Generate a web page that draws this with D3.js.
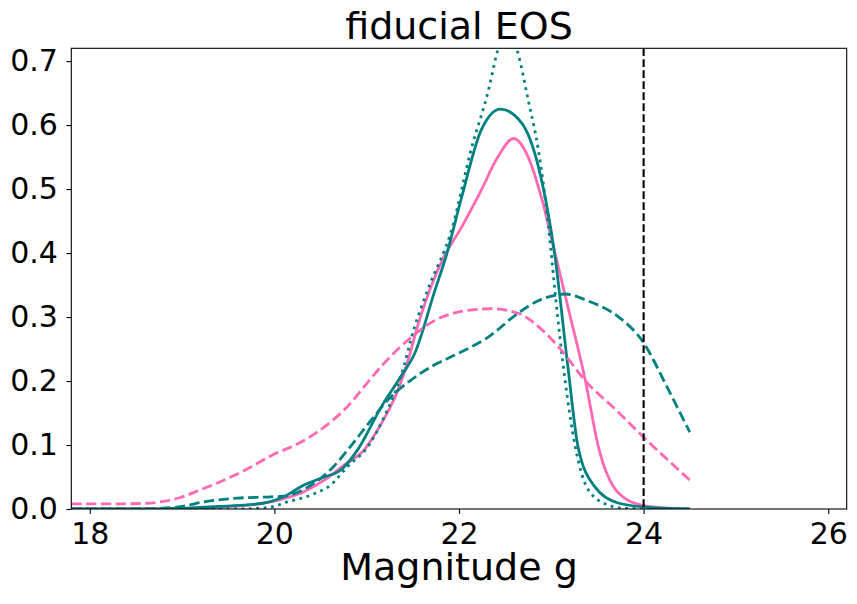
<!DOCTYPE html>
<html>
<head>
<meta charset="utf-8">
<script src="https://cdn.jsdelivr.net/npm/d3@7"></script>
<style>
  body { margin: 0; background: #fff; }
  text { font-family: "DejaVu Sans", sans-serif; }
</style>
</head>
<body>
<div id="chart"></div>
<script>
// data (magnitude g vs density)

var pinkSolidX = [17.8, 18.5, 19.0, 19.4, 19.7, 19.96, 20.15, 20.32, 20.54, 20.75, 20.97, 21.16, 21.34, 21.45, 21.55, 21.74, 21.83, 22.03, 22.24, 22.42, 22.59, 22.75, 22.9, 23.04, 23.18, 23.37, 23.51, 23.73, 23.98, 24.2, 24.5];
var pinkSolidY = [0, 0, 0.001, 0.003, 0.006, 0.011, 0.018, 0.027, 0.045, 0.068, 0.092, 0.134, 0.186, 0.233, 0.285, 0.363, 0.392, 0.441, 0.498, 0.55, 0.579, 0.55, 0.483, 0.40, 0.316, 0.2, 0.097, 0.0245, 0.006, 0.002, 0];

var tealSolidX = [17.8, 18.5, 19.0, 19.4, 19.88, 20.1, 20.32, 20.54, 20.72, 20.9, 21.16, 21.37, 21.52, 21.74, 21.86, 22.03, 22.24, 22.45, 22.68, 22.86, 23.04, 23.18, 23.29, 23.47, 23.73, 24.1, 24.5];
var tealSolidY = [0, 0, 0.001, 0.004, 0.009, 0.019, 0.0375, 0.05, 0.061, 0.092, 0.16, 0.207, 0.243, 0.342, 0.395, 0.488, 0.592, 0.625, 0.603, 0.535, 0.394, 0.222, 0.097, 0.035, 0.009, 0.002, 0];

var tealDotX = [17.8, 19.0, 19.5, 19.92, 20.14, 20.4, 20.61, 20.79, 21.01, 21.19, 21.37, 21.52, 21.66, 21.93, 22.13, 22.32, 22.42, 22.52, 22.63, 22.75, 22.86, 22.97, 23.04, 23.15, 23.26, 23.4, 23.62, 23.8, 24.5];
var tealDotY = [0, 0, 0, 0.002, 0.011, 0.022, 0.0375, 0.066, 0.097, 0.144, 0.207, 0.285, 0.342, 0.441, 0.561, 0.655, 0.717, 0.75, 0.717, 0.639, 0.561, 0.441, 0.34, 0.2, 0.097, 0.03, 0.006, 0.001, 0];

var pinkDashX = [17.8, 18.3, 18.62, 18.8, 18.98, 19.2, 19.42, 19.7, 19.96, 20.32, 20.61, 20.81, 21.0, 21.19, 21.48, 21.73, 22.0, 22.35, 22.64, 22.9, 23.11, 23.37, 23.7, 23.98, 24.2, 24.5];
var pinkDashY = [0.008, 0.008, 0.009, 0.012, 0.018, 0.03, 0.043, 0.062, 0.083, 0.107, 0.136, 0.163, 0.196, 0.228, 0.268, 0.294, 0.308, 0.313, 0.306, 0.28, 0.248, 0.2, 0.155, 0.115, 0.085, 0.045];

var tealDashX = [17.8, 18.5, 18.87, 19.0, 19.23, 19.6, 19.96, 20.1, 20.4, 20.64, 20.81, 21.0, 21.26, 21.48, 21.73, 21.99, 22.32, 22.64, 22.85, 23.04, 23.15, 23.4, 23.73, 23.98, 24.27, 24.5];
var tealDashY = [0, 0, 0.002, 0.004, 0.011, 0.017, 0.019, 0.02, 0.0375, 0.066, 0.095, 0.13, 0.175, 0.2015, 0.225, 0.243, 0.269, 0.306, 0.325, 0.334, 0.336, 0.325, 0.30, 0.264, 0.186, 0.12];

var xTicks = [18, 20, 22, 24, 26];
var yTicks = [0, 0.1, 0.2, 0.3, 0.4, 0.5, 0.6, 0.7];
var cutMag = 24;

// Step 1: set up the chart

var svgWidth = 857;
var svgHeight = 604;

var margin = { top: 48.3, right: 10.3, bottom: 95, left: 71.3 };

var chartWidth = svgWidth - margin.left - margin.right;
var chartHeight = svgHeight - margin.top - margin.bottom;

var svg = d3.select("#chart")
    .append("svg")
    .attr("width", svgWidth)
    .attr("height", svgHeight);

var chartGroup = svg.append("g")
    .attr("transform", `translate(${margin.left}, ${margin.top})`);

svg.append("defs").append("clipPath")
    .attr("id", "plotClip")
    .append("rect")
    .attr("width", chartWidth)
    .attr("height", chartHeight);

// Step 2: scales

var xScale = d3.scaleLinear().domain([17.8, 26.2]).range([0, chartWidth]);
var yScale = d3.scaleLinear().domain([0, 0.72]).range([chartHeight, 0]);

// Step 3: lines

var line = d3.line()
    .x(d => xScale(d[0]))
    .y(d => yScale(d[1]))
    .curve(d3.curveMonotoneX);

var series = [
    { xs: pinkSolidX, ys: pinkSolidY, color: "#ff69b4", dash: null },
    { xs: tealSolidX, ys: tealSolidY, color: "#008080", dash: null },
    { xs: tealDotX, ys: tealDotY, color: "#008080", dash: "2.8,4.6" },
    { xs: pinkDashX, ys: pinkDashY, color: "#ff69b4", dash: "10.3,4.5" },
    { xs: tealDashX, ys: tealDashY, color: "#008080", dash: "10.3,4.5" }
];

var plot = chartGroup.append("g").attr("clip-path", "url(#plotClip)");

series.forEach(function(s) {
    var pts = s.xs.map((x, i) => [x, s.ys[i]]);
    plot.append("path")
        .datum(pts)
        .attr("d", line)
        .attr("fill", "none")
        .attr("stroke", s.color)
        .attr("stroke-width", 2.8)
        .attr("stroke-dasharray", s.dash);
});

// vertical cut line
plot.append("line")
    .attr("x1", xScale(cutMag))
    .attr("x2", xScale(cutMag))
    .attr("y1", 0)
    .attr("y2", chartHeight)
    .attr("stroke", "#000")
    .attr("stroke-width", 2.1)
    .attr("stroke-dasharray", "7.7,3.3");

// Step 4: axes

var bottomAxis = d3.axisBottom(xScale)
    .tickValues(xTicks)
    .tickFormat(d3.format("d"))
    .tickSize(4.9)
    .tickPadding(9);

var leftAxis = d3.axisLeft(yScale)
    .tickValues(yTicks)
    .tickFormat(d3.format(".1f"))
    .tickSize(4.9)
    .tickPadding(8.5);

var xg = chartGroup.append("g")
    .attr("transform", `translate(0, ${chartHeight})`)
    .call(bottomAxis);

var yg = chartGroup.append("g").call(leftAxis);

[xg, yg].forEach(function(g) {
    g.select(".domain").remove();
    g.selectAll(".tick line").attr("stroke", "#000").attr("stroke-width", 1.1);
    g.selectAll(".tick text")
        .attr("fill", "#000")
        .attr("font-size", 30)
        .attr("font-family", "DejaVu Sans");
});

// frame
chartGroup.append("rect")
    .attr("width", chartWidth)
    .attr("height", chartHeight)
    .attr("fill", "none")
    .attr("stroke", "#000")
    .attr("stroke-width", 1.1);

// Step 5: title and axis label

svg.append("text")
    .attr("x", margin.left + chartWidth / 2)
    .attr("y", 39)
    .attr("text-anchor", "middle")
    .attr("font-size", 38)
    .text("fiducial EOS");

svg.append("text")
    .attr("x", margin.left + chartWidth / 2)
    .attr("y", 580)
    .attr("text-anchor", "middle")
    .attr("font-size", 38)
    .text("Magnitude g");
</script>
</body>
</html>
